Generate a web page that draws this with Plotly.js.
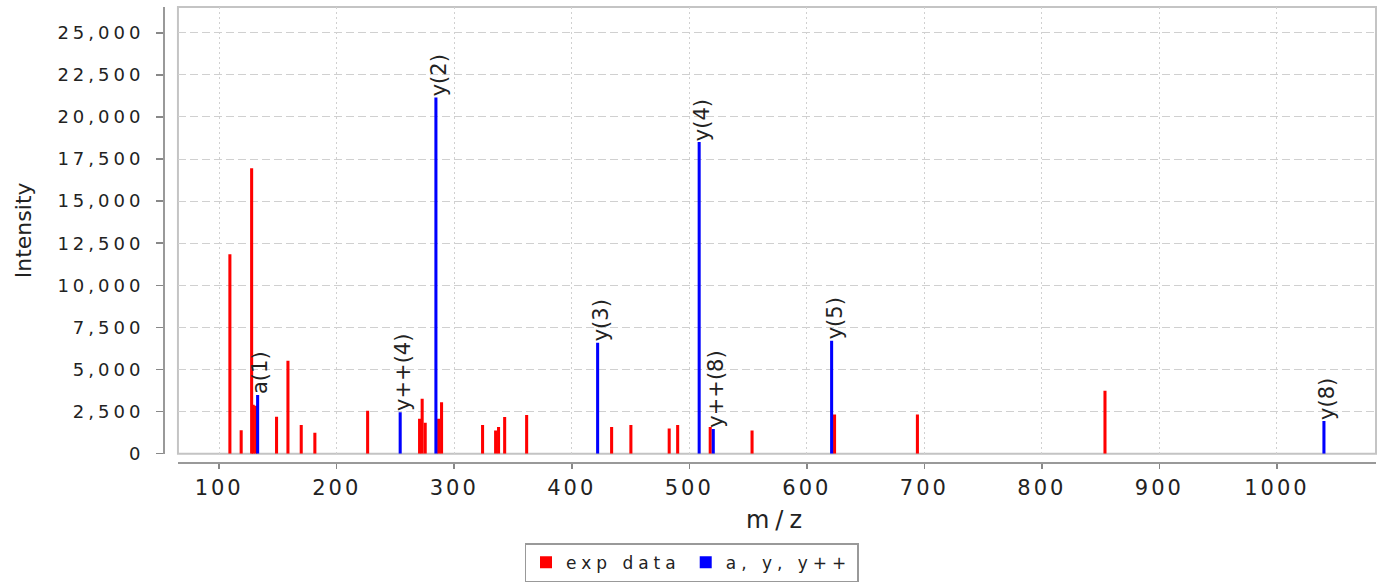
<!DOCTYPE html>
<html><head><meta charset="utf-8">
<script src="https://cdn.plot.ly/plotly-3.0.1.min.js"></script>
<style>
html,body{margin:0;padding:0;background:#fff;overflow:hidden;}
#chart{width:1383px;height:584px;}
.ytick text{letter-spacing:4px;}
.xtick text{letter-spacing:3px;}
.xtitle{letter-spacing:6px;}
.legendtext{letter-spacing:5px;}
</style></head><body><div id="chart"></div>
<script>
// experimental peaks (red)
const expMz = [109.1, 118.7, 127.6, 128.9, 131.0, 148.8, 158.5, 169.8, 181.4, 226.3, 270.5, 272.7, 275.3, 286.7, 289.2, 324.1, 335.2, 337.7, 342.9, 361.6, 433.9, 450.3, 482.9, 490.1, 517.8, 553.4, 623.6, 694.1, 853.7];
const expIntensity = [11840, 1390, 16950, 2900, 2850, 2200, 5520, 1700, 1250, 2550, 2080, 3270, 1840, 2080, 3050, 1700, 1370, 1580, 2180, 2300, 1580, 1700, 1490, 1700, 1580, 1370, 2320, 2320, 3740];
// annotated ions (blue)
const ionMz = [132.7, 254.0, 284.4, 422.0, 508.4, 520.4, 621.1, 1040.0];
const ionIntensity = [3490, 2460, 21160, 6590, 18510, 1470, 6710, 1940];
const ionLabels = ['a(1)', 'y++(4)', 'y(2)', 'y(3)', 'y(4)', 'y++(8)', 'y(5)', 'y(8)'];
// axis ticks
const xTickVals = [100, 200, 300, 400, 500, 600, 700, 800, 900, 1000];
const yTickVals = [0, 2500, 5000, 7500, 10000, 12500, 15000, 17500, 20000, 22500, 25000];

const barWidth = 2.6;
const traces = [
  {type:'bar', name:'exp data', x:expMz, y:expIntensity, width:barWidth,
   marker:{color:'#ff0000', line:{width:0}}, hoverinfo:'skip'},
  {type:'bar', name:'a, y, y++', x:ionMz, y:ionIntensity, width:barWidth,
   marker:{color:'#0000ff', line:{width:0}}, hoverinfo:'skip'}
];

const annotations = ionMz.map((m, i) => ({
  x: m, y: ionIntensity[i], xref:'x', yref:'y', text: ionLabels[i],
  textangle: -90, showarrow:false, xanchor:'center', yanchor:'bottom',
  xshift: 3, yshift: -1,
  font:{family:'DejaVu Sans', size:21, color:'#222'}
}));

const layout = {
  width:1383, height:584,
  margin:{l:140, r:7, t:7, b:110},
  paper_bgcolor:'#fff', plot_bgcolor:'#fff',
  barmode:'overlay', showlegend:true,
  font:{family:'DejaVu Sans', color:'#222'},
  xaxis:{
    range:[64.9, 1084.3], domain:[0.0307, 1], anchor:'free', position:0.0236,
    tickvals:xTickVals, ticks:'outside', ticklen:5, tickwidth:1.5, tickcolor:'#888',
    showline:true, linecolor:'#999', linewidth:2.5,
    showgrid:true, gridcolor:'#d0d0d0', gridwidth:1, griddash:'2px,3px',
    zeroline:false, tickfont:{family:'DejaVu Sans', size:21, color:'#222'},
    ticklabelstandoff:0,
    title:{text:'m/z', font:{family:'DejaVu Sans', size:24, color:'#222'}, standoff:12}
  },
  yaxis:{
    range:[0, 26530], domain:[0.0435, 1], anchor:'free', position:0.0194,
    tickvals:yTickVals, tickformat:',d', ticks:'outside', ticklen:7, tickwidth:1.5, tickcolor:'#888',
    showline:true, linecolor:'#999', linewidth:2.5,
    showgrid:true, gridcolor:'#d0d0d0', gridwidth:1, griddash:'8px,4px',
    zeroline:false, tickfont:{family:'DejaVu Sans', size:18, color:'#222'},
    ticklabelstandoff:8,
    title:{text:'Intensity', font:{family:'DejaVu Sans', size:22, color:'#222'}, standoff:18}
  },
  shapes:[{type:'rect', xref:'x domain', yref:'y domain', x0:0, x1:1, y0:0, y1:1,
           line:{color:'#c4c4c4', width:2}, fillcolor:'rgba(0,0,0,0)', layer:'below'}],
  legend:{orientation:'h', xref:'container', yref:'container', x:0.5, xanchor:'center', y:0.003, yanchor:'bottom',
          bordercolor:'#999', borderwidth:1.5, bgcolor:'#fff',
          font:{family:'DejaVu Sans', size:17, color:'#222'}, itemwidth:30, traceorder:'normal'},
  annotations: annotations
};

Plotly.newPlot('chart', traces, layout, {displayModeBar:false, staticPlot:true});
</script></body></html>
